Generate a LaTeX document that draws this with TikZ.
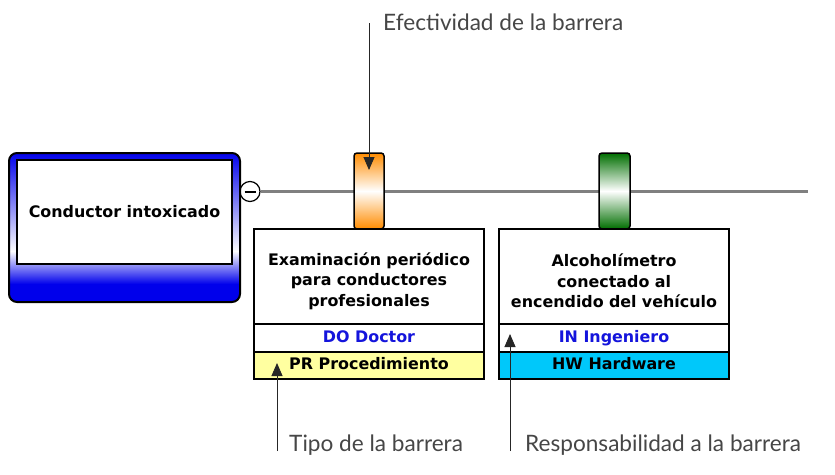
\documentclass[tikz,border=0pt]{standalone}
\usepackage{fontspec}
\usetikzlibrary{arrows.meta}
\newfontfamily\boxfont{DejaVu Sans}
\newfontfamily\annfont{Lato}
\definecolor{causeblue}{RGB}{0,0,235}
\definecolor{barorange}{RGB}{255,140,0}
\definecolor{bargreen}{RGB}{0,110,0}
\definecolor{rowyellow}{RGB}{255,255,160}
\definecolor{rowcyan}{RGB}{0,200,250}
\definecolor{txtblue}{RGB}{20,20,220}
\definecolor{linegray}{RGB}{128,128,128}
\definecolor{anngray}{RGB}{70,70,70}
\tikzset{
  x=1pt, y=-1pt,
  boxtext/.style={font=\boxfont\bfseries\fontsize{15.9}{20.5}\selectfont},
  descbox/.style={draw=black, line width=1.6pt, fill=white, minimum width=230pt, inner sep=0pt},
  desctext/.style={align=center, text width=228pt, inner sep=0pt, boxtext},
  rowbox/.style={descbox, minimum height=27.5pt, boxtext, text height=11.5pt, text depth=3pt},
  anntext/.style={font=\annfont\fontsize{22.6}{26}\selectfont, text=anngray, inner sep=0pt, anchor=base west},
  annarrow/.style={draw=black!85, line width=0.9pt, -{Triangle[width=11pt,length=13pt]}},
  pathline/.style={draw=linegray, line width=3.5pt},
}
\begin{document}
\begin{tikzpicture}
\useasboundingbox (0,0) rectangle (835,474);
% pathway line
\node[draw=black, line width=1.2pt, fill=white, circle, minimum size=20pt, inner sep=0pt] (minus) at (250,191.5) {};
\draw[line width=2pt] (244.5,191.5) -- (255.5,191.5);
\coordinate (lineend) at (808,191.5);
\draw[pathline] (minus.east) -- (lineend);
% cause box
\begin{scope}
  \clip[rounded corners=8pt] (9,153) rectangle (240,302);
  \shade[top color=causeblue, bottom color=white] (9,152) rectangle (240,252);
  \shade[top color=white, bottom color=causeblue] (9,251) rectangle (240,284);
  \fill[causeblue] (9,283.5) rectangle (240,303);
\end{scope}
\draw[line width=2pt, rounded corners=8pt] (9,153) rectangle (240,302);
\node[draw=black, line width=1.5pt, fill=white, minimum width=215pt, minimum height=104pt, inner sep=0pt, boxtext] (cause) at (124.5,212) {Conductor intoxicado};
% barriers
\shade[top color=barorange, bottom color=barorange, middle color=white, draw=black, line width=1.5pt, rounded corners=3pt]
  (354,229) -- (354,153) -- (384,153) -- (384,229) -- cycle;
\shade[top color=bargreen, bottom color=bargreen, middle color=white, draw=black, line width=1.5pt, rounded corners=3pt]
  (599,229) -- (599,153) -- (630,153) -- (630,229) -- cycle;
% barrier 1
\node[descbox, minimum height=95pt] (b1) at (369,276.5) {};
\node[desctext] (b1text) at (369,281) {Examinación periódico\\para conductores\\profesionales};
\node[rowbox, text=txtblue] (b1resp) at (369,338) {DO Doctor};
\node[rowbox, fill=rowyellow] (b1type) at (369,365.5) {PR Procedimiento};
% barrier 2
\node[descbox, minimum height=95pt] (b2) at (614,276.5) {};
\node[desctext] (b2text) at (614,281) {Alcoholímetro\\conectado al\\encendido del vehículo};
\node[rowbox, text=txtblue] (b2resp) at (614,338) {IN Ingeniero};
\node[rowbox, fill=rowcyan] (b2type) at (614,365.5) {HW Hardware};
% annotations
\node[anntext] (eff) at (383,30) {Efectividad de la barrera};
\coordinate (effstart) at (369,23);
\coordinate (efftip) at (369,170);
\draw[annarrow] (effstart) -- (efftip);
\node[anntext] (tipo) at (289,451) {Tipo de la barrera};
\coordinate (tipostart) at (277,451);
\coordinate (tipotip) at (277,363);
\draw[annarrow] (tipostart) -- (tipotip);
\node[anntext] (resp) at (525,451) {Responsabilidad a la barrera};
\coordinate (respstart) at (510,451);
\coordinate (resptip) at (510,334);
\draw[annarrow] (respstart) -- (resptip);
\end{tikzpicture}
\end{document}
